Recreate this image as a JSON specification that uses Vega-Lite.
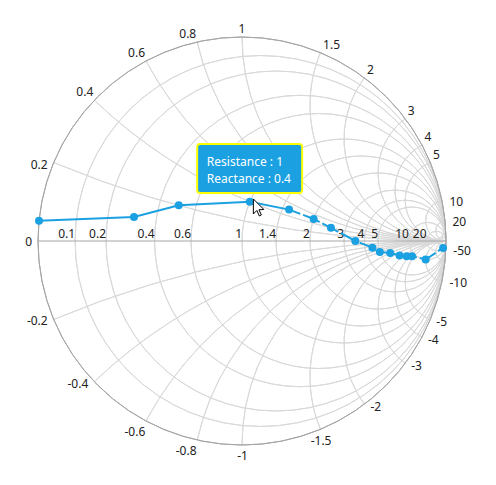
{
  "$schema": "https://vega.github.io/schema/vega-lite/v6.json",
  "width": 408,
  "height": 408,
  "autosize": {"type": "none"},
  "padding": {"left": 38, "top": 37, "right": 50, "bottom": 40},
  "background": "white",
  "config": {"view": {"stroke": null}, "text": {"font": "Noto Sans", "fontSize": 12, "color": "#222222"}},
  "datasets": {
    "series": [
      {"resistance": 0, "reactance": 0.05, "gx": -0.995012, "gy": 0.099751},
      {"resistance": 0.3, "reactance": 0.1, "gx": -0.529412, "gy": 0.117647},
      {"resistance": 0.5, "reactance": 0.2, "gx": -0.310044, "gy": 0.174672},
      {"resistance": 1, "reactance": 0.4, "gx": 0.038462, "gy": 0.192308},
      {"resistance": 1.5, "reactance": 0.5, "gx": 0.230769, "gy": 0.153846},
      {"resistance": 2, "reactance": 0.5, "gx": 0.351351, "gy": 0.108108},
      {"resistance": 2.5, "reactance": 0.4, "gx": 0.435939, "gy": 0.064464},
      {"resistance": 3.5, "reactance": 0, "gx": 0.555556, "gy": 0},
      {"resistance": 4.5, "reactance": -0.5, "gx": 0.639344, "gy": -0.032787},
      {"resistance": 5, "reactance": -1, "gx": 0.675676, "gy": -0.054054},
      {"resistance": 6, "reactance": -1.5, "gx": 0.726829, "gy": -0.058537},
      {"resistance": 7, "reactance": -2.5, "gx": 0.772242, "gy": -0.071174},
      {"resistance": 8, "reactance": -3.5, "gx": 0.806971, "gy": -0.075067},
      {"resistance": 9, "reactance": -4.5, "gx": 0.83368, "gy": -0.074844},
      {"resistance": 10, "reactance": -10, "gx": 0.900452, "gy": -0.090498},
      {"resistance": 20, "reactance": -50, "gx": 0.985719, "gy": -0.034002}
    ],
    "rcircles": [
      {"r": 0.1, "gx": 0.090909, "gy": 0, "rad": 0.909091, "t1": 0, "t2": 360},
      {"r": 0.2, "gx": 0.166667, "gy": 0, "rad": 0.833333, "t1": 0, "t2": 360},
      {"r": 0.4, "gx": 0.285714, "gy": 0, "rad": 0.714286, "t1": 0, "t2": 360},
      {"r": 0.6, "gx": 0.375, "gy": 0, "rad": 0.625, "t1": 0, "t2": 360},
      {"r": 1, "gx": 0.5, "gy": 0, "rad": 0.5, "t1": 0, "t2": 360},
      {"r": 1.4, "gx": 0.583333, "gy": 0, "rad": 0.416667, "t1": 0, "t2": 360},
      {"r": 2, "gx": 0.666667, "gy": 0, "rad": 0.333333, "t1": 0, "t2": 360},
      {"r": 3, "gx": 0.75, "gy": 0, "rad": 0.25, "t1": 0, "t2": 360},
      {"r": 4, "gx": 0.8, "gy": 0, "rad": 0.2, "t1": 0, "t2": 360},
      {"r": 5, "gx": 0.833333, "gy": 0, "rad": 0.166667, "t1": 0, "t2": 360},
      {"r": 10, "gx": 0.909091, "gy": 0, "rad": 0.090909, "t1": 0, "t2": 360},
      {"r": 20, "gx": 0.952381, "gy": 0, "rad": 0.047619, "t1": 0, "t2": 360},
      {"r": 50, "gx": 0.980392, "gy": 0, "rad": 0.019608, "t1": 0, "t2": 360}
    ],
    "xarcs": [
      {"x": 0.2, "gx": 1, "gy": 5, "rad": 5, "t1": 180, "t2": 202.6199},
      {"x": 0.4, "gx": 1, "gy": 2.5, "rad": 2.5, "t1": 180, "t2": 223.6028},
      {"x": 0.6, "gx": 1, "gy": 1.666667, "rad": 1.666667, "t1": 180, "t2": 241.9275},
      {"x": 0.8, "gx": 1, "gy": 1.25, "rad": 1.25, "t1": 180, "t2": 257.3196},
      {"x": 1, "gx": 1, "gy": 1, "rad": 1, "t1": 180, "t2": 270},
      {"x": 1.5, "gx": 1, "gy": 0.666667, "rad": 0.666667, "t1": 180, "t2": 292.6199},
      {"x": 2, "gx": 1, "gy": 0.5, "rad": 0.5, "t1": 180, "t2": 306.8699},
      {"x": 3, "gx": 1, "gy": 0.333333, "rad": 0.333333, "t1": 180, "t2": 323.1301},
      {"x": 4, "gx": 1, "gy": 0.25, "rad": 0.25, "t1": 180, "t2": 331.9275},
      {"x": 5, "gx": 1, "gy": 0.2, "rad": 0.2, "t1": 180, "t2": 337.3802},
      {"x": 10, "gx": 1, "gy": 0.1, "rad": 0.1, "t1": 180, "t2": 348.5788},
      {"x": 20, "gx": 1, "gy": 0.05, "rad": 0.05, "t1": 180, "t2": 354.2753},
      {"x": 50, "gx": 1, "gy": 0.02, "rad": 0.02, "t1": 180, "t2": 357.7085},
      {"x": -0.2, "gx": 1, "gy": -5, "rad": 5, "t1": 337.3801, "t2": 360},
      {"x": -0.4, "gx": 1, "gy": -2.5, "rad": 2.5, "t1": 316.3972, "t2": 360},
      {"x": -0.6, "gx": 1, "gy": -1.666667, "rad": 1.666667, "t1": 298.0725, "t2": 360},
      {"x": -0.8, "gx": 1, "gy": -1.25, "rad": 1.25, "t1": 282.6804, "t2": 360},
      {"x": -1, "gx": 1, "gy": -1, "rad": 1, "t1": 270, "t2": 360},
      {"x": -1.5, "gx": 1, "gy": -0.666667, "rad": 0.666667, "t1": 247.3801, "t2": 360},
      {"x": -2, "gx": 1, "gy": -0.5, "rad": 0.5, "t1": 233.1301, "t2": 360},
      {"x": -3, "gx": 1, "gy": -0.333333, "rad": 0.333333, "t1": 216.8699, "t2": 360},
      {"x": -4, "gx": 1, "gy": -0.25, "rad": 0.25, "t1": 208.0725, "t2": 360},
      {"x": -5, "gx": 1, "gy": -0.2, "rad": 0.2, "t1": 202.6198, "t2": 360},
      {"x": -10, "gx": 1, "gy": -0.1, "rad": 0.1, "t1": 191.4212, "t2": 360},
      {"x": -20, "gx": 1, "gy": -0.05, "rad": 0.05, "t1": 185.7247, "t2": 360},
      {"x": -50, "gx": 1, "gy": -0.02, "rad": 0.02, "t1": 182.2915, "t2": 360}
    ],
    "outer": [{"gx": 0, "gy": 0, "rad": 1, "t1": 0, "t2": 360}],
    "hline": [{"gx": -1, "gx2": 1, "gy": 0}],
    "rlabels": [
      {"label": "0.1", "gx": -0.818182, "gy": 0},
      {"label": "0.2", "gx": -0.666667, "gy": 0},
      {"label": "0.4", "gx": -0.428571, "gy": 0},
      {"label": "0.6", "gx": -0.25, "gy": 0},
      {"label": "1", "gx": 0, "gy": 0},
      {"label": "1.4", "gx": 0.166667, "gy": 0},
      {"label": "2", "gx": 0.333333, "gy": 0},
      {"label": "3", "gx": 0.5, "gy": 0},
      {"label": "4", "gx": 0.6, "gy": 0},
      {"label": "5", "gx": 0.666667, "gy": 0},
      {"label": "10", "gx": 0.818182, "gy": 0},
      {"label": "20", "gx": 0.904762, "gy": 0}
    ],
    "zlabel": [{"label": "0", "gx": -1, "gy": 0}],
    "xlabels": [
      {"label": "0.2", "gx": -0.923077, "gy": 0.384615, "grp": "I"},
      {"label": "0.4", "gx": -0.724138, "gy": 0.689655, "grp": "A"},
      {"label": "0.6", "gx": -0.470588, "gy": 0.882353, "grp": "A"},
      {"label": "0.8", "gx": -0.219512, "gy": 0.97561, "grp": "A"},
      {"label": "1", "gx": 0, "gy": 1, "grp": "C"},
      {"label": "1.5", "gx": 0.384615, "gy": 0.923077, "grp": "D"},
      {"label": "2", "gx": 0.6, "gy": 0.8, "grp": "D"},
      {"label": "3", "gx": 0.8, "gy": 0.6, "grp": "D"},
      {"label": "4", "gx": 0.882353, "gy": 0.470588, "grp": "D"},
      {"label": "5", "gx": 0.923077, "gy": 0.384615, "grp": "D"},
      {"label": "10", "gx": 0.980198, "gy": 0.19802, "grp": "E"},
      {"label": "20", "gx": 0.995012, "gy": 0.099751, "grp": "E"},
      {"label": "-50", "gx": 0.9992, "gy": -0.039984, "grp": "E"},
      {"label": "-10", "gx": 0.980198, "gy": -0.19802, "grp": "E"},
      {"label": "-5", "gx": 0.923077, "gy": -0.384615, "grp": "F"},
      {"label": "-4", "gx": 0.882353, "gy": -0.470588, "grp": "F"},
      {"label": "-3", "gx": 0.8, "gy": -0.6, "grp": "F"},
      {"label": "-2", "gx": 0.6, "gy": -0.8, "grp": "F"},
      {"label": "-1.5", "gx": 0.384615, "gy": -0.923077, "grp": "G"},
      {"label": "-1", "gx": 0, "gy": -1, "grp": "G"},
      {"label": "-0.8", "gx": -0.219512, "gy": -0.97561, "grp": "H"},
      {"label": "-0.6", "gx": -0.470588, "gy": -0.882353, "grp": "H"},
      {"label": "-0.4", "gx": -0.724138, "gy": -0.689655, "grp": "I"},
      {"label": "-0.2", "gx": -0.923077, "gy": -0.384615, "grp": "I"}
    ],
    "tip": [{"resistance": 1, "reactance": 0.4, "gx": 0.038462, "gy": 0.192308, "line1": "Resistance : 1", "line2": "Reactance : 0.4"}]
  },
  "encoding": {
    "x": {"field": "gx", "type": "quantitative", "scale": {"domain": [-1, 1], "nice": false, "zero": false}, "axis": null},
    "y": {"field": "gy", "type": "quantitative", "scale": {"domain": [-1, 1], "nice": false, "zero": false}, "axis": null}
  },
  "layer": [
    {
      "data": {"name": "rcircles"},
      "mark": {"type": "arc", "filled": false, "stroke": "#D9D9D9", "strokeWidth": 1},
      "encoding": {
        "theta": {"field": "t1", "type": "quantitative", "stack": null, "scale": {"domain": [0, 360], "range": [0, 6.283185307179586]}},
        "theta2": {"field": "t2"},
        "radius": {"field": "rad", "type": "quantitative", "stack": null, "scale": {"type": "linear", "domain": [0, 1], "range": [0, 204], "zero": true}},
        "radius2": {"field": "rad"}
      }
    },
    {
      "data": {"name": "xarcs"},
      "mark": {"type": "arc", "filled": false, "stroke": "#D9D9D9", "strokeWidth": 1},
      "encoding": {
        "theta": {"field": "t1", "type": "quantitative", "stack": null, "scale": {"domain": [0, 360], "range": [0, 6.283185307179586]}},
        "theta2": {"field": "t2"},
        "radius": {"field": "rad", "type": "quantitative", "stack": null, "scale": {"type": "linear", "domain": [0, 1], "range": [0, 204], "zero": true}},
        "radius2": {"field": "rad"}
      }
    },
    {
      "data": {"name": "hline"},
      "mark": {"type": "rule", "stroke": "#A6A6A6", "strokeWidth": 1},
      "encoding": {"x2": {"field": "gx2"}}
    },
    {
      "data": {"name": "outer"},
      "mark": {"type": "arc", "filled": false, "stroke": "#A6A6A6", "strokeWidth": 1},
      "encoding": {
        "theta": {"field": "t1", "type": "quantitative", "stack": null, "scale": {"domain": [0, 360], "range": [0, 6.283185307179586]}},
        "theta2": {"field": "t2"},
        "radius": {"field": "rad", "type": "quantitative", "stack": null, "scale": {"type": "linear", "domain": [0, 1], "range": [0, 204], "zero": true}},
        "radius2": {"field": "rad"}
      }
    },
    {
      "data": {"name": "rlabels"},
      "mark": {"type": "text", "align": "right", "baseline": "alphabetic", "dx": 0, "dy": -3},
      "encoding": {"text": {"field": "label"}}
    },
    {
      "data": {"name": "zlabel"},
      "mark": {"type": "text", "align": "right", "baseline": "alphabetic", "dx": -6, "dy": 4.5},
      "encoding": {"text": {"field": "label"}}
    },
    {
      "data": {"name": "xlabels"},
      "transform": [{"filter": "datum.grp == 'A'"}],
      "mark": {"type": "text", "align": "right", "baseline": "alphabetic", "dx": -1, "dy": -4},
      "encoding": {"text": {"field": "label"}}
    },
    {
      "data": {"name": "xlabels"},
      "transform": [{"filter": "datum.grp == 'C'"}],
      "mark": {"type": "text", "align": "center", "baseline": "alphabetic", "dx": 0, "dy": -4},
      "encoding": {"text": {"field": "label"}}
    },
    {
      "data": {"name": "xlabels"},
      "transform": [{"filter": "datum.grp == 'D'"}],
      "mark": {"type": "text", "align": "left", "baseline": "alphabetic", "dx": 2.6, "dy": -3.7},
      "encoding": {"text": {"field": "label"}}
    },
    {
      "data": {"name": "xlabels"},
      "transform": [{"filter": "datum.grp == 'E'"}],
      "mark": {"type": "text", "align": "left", "baseline": "alphabetic", "dx": 7.5, "dy": 5.4},
      "encoding": {"text": {"field": "label"}}
    },
    {
      "data": {"name": "xlabels"},
      "transform": [{"filter": "datum.grp == 'F'"}],
      "mark": {"type": "text", "align": "left", "baseline": "alphabetic", "dx": 6, "dy": 6.6},
      "encoding": {"text": {"field": "label"}}
    },
    {
      "data": {"name": "xlabels"},
      "transform": [{"filter": "datum.grp == 'G'"}],
      "mark": {"type": "text", "align": "center", "baseline": "alphabetic", "dx": 0.6, "dy": 15.3},
      "encoding": {"text": {"field": "label"}}
    },
    {
      "data": {"name": "xlabels"},
      "transform": [{"filter": "datum.grp == 'H'"}],
      "mark": {"type": "text", "align": "right", "baseline": "alphabetic", "dx": -0.7, "dy": 15.3},
      "encoding": {"text": {"field": "label"}}
    },
    {
      "data": {"name": "xlabels"},
      "transform": [{"filter": "datum.grp == 'I'"}],
      "mark": {"type": "text", "align": "right", "baseline": "alphabetic", "dx": -6, "dy": 6},
      "encoding": {"text": {"field": "label"}}
    },
    {
      "data": {"name": "series"},
      "transform": [{"filter": "datum.resistance <= 1.5"}],
      "mark": {"type": "line", "stroke": "#1BA1E2", "strokeWidth": 2},
      "encoding": {}
    },
    {
      "data": {"name": "series"},
      "transform": [{"filter": "datum.resistance >= 1.5"}],
      "mark": {"type": "line", "stroke": "#1BA1E2", "strokeWidth": 2, "strokeDash": [18, 3], "strokeDashOffset": 6},
      "encoding": {}
    },
    {
      "data": {"name": "series"},
      "mark": {"type": "point", "shape": "circle", "filled": true, "fill": "#1BA1E2", "opacity": 1, "size": 64, "strokeWidth": 0},
      "encoding": {}
    },
    {
      "data": {"name": "tip"},
      "mark": {"type": "rect", "width": 105, "height": 49, "xOffset": -0.2, "yOffset": -33.3, "fill": "#1BA1E2", "stroke": "#FFFF00", "strokeWidth": 2, "cornerRadius": 3},
      "encoding": {}
    },
    {
      "data": {"name": "tip"},
      "mark": {"type": "text", "align": "left", "baseline": "alphabetic", "dx": -43, "dy": -35.8, "color": "white", "fontSize": 12},
      "encoding": {"text": {"field": "line1"}}
    },
    {
      "data": {"name": "tip"},
      "mark": {"type": "text", "align": "left", "baseline": "alphabetic", "dx": -43, "dy": -19.1, "color": "white", "fontSize": 12},
      "encoding": {"text": {"field": "line2"}}
    },
    {
      "data": {"name": "tip"},
      "mark": {"type": "point", "shape": "M0,0 L0,15 L3.5,11.5 L6,17 L8,16 L5.6,10.8 L10.5,10.5 Z", "size": 4, "filled": true, "fill": "white", "stroke": "black", "strokeWidth": 1, "opacity": 1, "xOffset": 3.5, "yOffset": -2.8},
      "encoding": {}
    }
  ]
}
